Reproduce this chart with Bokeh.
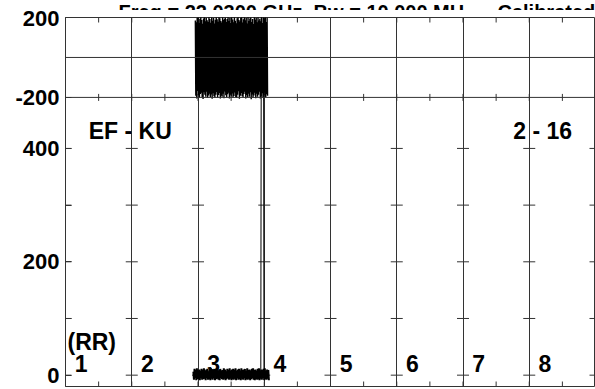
import numpy as np
from bokeh.plotting import figure
from bokeh.layouts import column
from bokeh.models import Range1d, LinearAxis, FixedTicker, Span, Grid
from bokeh.core.properties import value
from bokeh.embed import file_html
from bokeh.resources import INLINE

# ---------------- data ----------------
TITLE_TEXT = "Freq = 22.0300 GHz, Bw = 10.000 MH"
TITLE_TAIL = "Calibrated"
CELL_LABELS = ["1", "2", "3", "4", "5", "6", "7", "8"]
CORNER_LEFT = "EF - KU"
CORNER_RIGHT = "2 - 16"
UNIT_LABEL = "(RR)"

GRID_X = [0, 1, 2, 3, 4, 5, 6, 7, 8]
HALF_X = [0, 0.5, 1, 1.5, 2, 2.5, 3, 3.5, 4, 4.5, 5, 5.5, 6, 6.5, 7, 7.5, 8]
AMP_MAJOR = [0, 200, 400]
AMP_MINOR = [100, 300]
PHASE_TICKS = [-200, 200]
PHASE_TICK_LABELS = ["-200", "200"]

# phase trace (top panel), noisy between x = 1.96 and 3.05
PHASE_X0, PHASE_X1 = 1.96, 3.05
PHASE_NOISE = [
    185, -192, 176, -205, 198, -168, 207, -189, 172, -201, 194, -183, 203, -176, 188, -199,
    169, -208, 195, -174, 204, -187, 181, -196, 199, -171, 186, -203, 177, -190, 206, -182,
    193, -198, 174, -185, 201, -207, 184, -179, 197, -194, 170, -202, 189, -186, 205, -173,
    191, -200, 179, -188, 202, -178, 196, -205, 183, -192, 175, -197, 208, -181, 187, -204,
    194, -170, 200, -189, 178, -199, 192, -184, 205, -176, 182, -206, 198, -187, 173, -195,
    203, -180, 190, -201, 176, -193, 209, -175, 184, -198, 171, -203, 196, -186, 202, -169,
    188, -207, 180, -191, 199, -178, 206, -194, 175, -200, 191, -183, 204, -172, 186, -205,
    197, -188, 170, -199, 207, -181, 183, -196, 195, -174, 201, -209, 178, -185, 193, -202,
    168, -190, 205, -177, 189, -204, 199, -182, 176, -197, 208, -186, 185, -171, 194, -206,
    181, -195, 203, -179, 172, -201, 198, -189, 190, -175, 206, -199, 177, -184, 200, -192]

# amplitude trace (bottom panel): low band from x = 1.93 to 3.07 plus a spike
AMP_X0, AMP_X1 = 1.93, 3.07
AMP_NOISE = [
    6, -8, 11, -5, 9, -9, 12, -7, 8, -6, 10, -9, 7, -4, 11, -8, 9, -7, 12, -6,
    8, -9, 10, -5, 11, -8, 7, -7, 9, -9, 12, -6, 10, -8, 8, -5, 11, -9, 9, -7,
    12, -6, 7, -8, 10, -9, 11, -5, 8, -7, 9, -8, 12, -6, 10, -9, 7, -7, 11, -5,
    9, -8, 12, -6, 8, -9, 10, -7, 11, -8, 9, -6, 12, -9, 7, -5, 10, -8, 11, -7,
    8, -9, 12, -6, 9, -8, 10, -5, 11, -9, 7, -7, 12, -8, 9, -6, 10, -9, 8, -7,
    11, -5, 12, -8, 9, -9, 10, -6, 7, -8, 11, -7, 12, -9, 8, -6, 10, -8, 9, -5,
    11, -9, 12, -7, 8, -8, 10, -6, 9, -9]
SPIKE_X = [2.948, 2.956, 2.989, 2.996]
SPIKE_Y = [5, 700, 700, 8]

# ---------------- layout constants ----------------
W = 595
TITLE_H = 10                   # strip above the plot, title is cut by the page top
H = 379
LEFT, TOP, BOTTOM = 65, 7, 3
Y_LO, Y_BOUND, Y_TOP = -20, 490, 631      # bottom-panel units over the whole frame
PH_LO, PH_HI = -200, 200
ph_frame_lo = PH_LO - (PH_HI - PH_LO) * (Y_BOUND - Y_LO) / (Y_TOP - Y_BOUND)

FONT = "Liberation Sans"
INK = "#000000"
GRID = "#333333"

x_range = Range1d(0, 8)

# ---- title strip ----
t = figure(width=W, height=TITLE_H, output_backend="svg", toolbar_location=None,
           x_range=x_range, y_range=Range1d(0, TITLE_H),
           x_axis_location=None, y_axis_location=None,
           min_border_left=LEFT, min_border_right=0, min_border_top=0,
           min_border_bottom=0)
t.grid.visible = False
t.outline_line_color = None
t.text(x=[0.8, 6.52], y=[0.5, 0.5], text=[TITLE_TEXT, TITLE_TAIL], text_font=value(FONT),
       text_font_style="bold", text_font_size="20px", text_color=INK,
       text_baseline="alphabetic", text_align="left")

# ---- main plot ----
p = figure(width=W, height=H, output_backend="svg", toolbar_location=None,
           x_range=x_range, y_range=Range1d(Y_LO, Y_TOP),
           x_axis_location=None, y_axis_location=None,
           min_border_left=LEFT, min_border_right=0, min_border_top=TOP,
           min_border_bottom=BOTTOM)
p.grid.visible = False
p.extra_y_ranges = {"phase": Range1d(ph_frame_lo, PH_HI)}
p.outline_line_color = GRID
p.outline_line_width = 1
p.background_fill_color = "white"
p.border_fill_color = "white"

# vertical grid lines through both panels
p.add_layout(Grid(dimension=0, ticker=FixedTicker(ticks=GRID_X),
                  grid_line_color=GRID, grid_line_width=1))

# panel boundary and phase zero line
p.add_layout(Span(location=Y_BOUND, dimension="width", line_color=GRID, line_width=1))
p.add_layout(Span(location=0, dimension="width", line_color=GRID, line_width=1,
                  y_range_name="phase"))

# left axis: amplitude ticks plus the phase panel's limits
def phase_to_amp(v):
    return Y_BOUND + (v - PH_LO) / (PH_HI - PH_LO) * (Y_TOP - Y_BOUND)

ph_pos = [round(phase_to_amp(v), 3) for v in PHASE_TICKS]
overrides = {pos: lab for pos, lab in zip(ph_pos, PHASE_TICK_LABELS)}
yaxis = LinearAxis(ticker=FixedTicker(ticks=AMP_MAJOR + ph_pos, minor_ticks=AMP_MINOR),
                   major_label_overrides=overrides,
                   axis_line_color=GRID, major_tick_in=6, major_tick_out=0,
                   minor_tick_in=6, minor_tick_out=0,
                   major_tick_line_color=GRID, minor_tick_line_color=GRID,
                   major_label_standoff=6,
                   major_label_text_font=FONT, major_label_text_font_style="bold",
                   major_label_text_font_size="22px", major_label_text_color=INK)
p.add_layout(yaxis, "left")

# tick crosses on the vertical grid lines (bottom panel)
cx = [x for x in GRID_X for _ in AMP_MAJOR + AMP_MINOR]
cy = [y for _ in GRID_X for y in AMP_MAJOR + AMP_MINOR]
p.scatter(cx, cy, marker="dash", size=12, line_color=GRID, line_width=1)

# x ticks along frame top, panel boundary and frame bottom
vt = np.pi / 2
p.scatter(HALF_X, [Y_LO] * len(HALF_X), marker="dash", angle=vt, size=10,
          line_color=GRID, line_width=1)
p.scatter(HALF_X, [Y_BOUND] * len(HALF_X), marker="dash", angle=vt, size=7,
          line_color=GRID, line_width=1)
p.scatter(HALF_X, [Y_TOP] * len(HALF_X), marker="dash", angle=vt, size=10,
          line_color=GRID, line_width=1)

# traces
px = np.linspace(PHASE_X0, PHASE_X1, len(PHASE_NOISE))
p.line(px, PHASE_NOISE, line_color=INK, line_width=1.4, y_range_name="phase")
ax = np.linspace(AMP_X0, AMP_X1, len(AMP_NOISE))
p.line(ax, AMP_NOISE, line_color=INK, line_width=2)
p.line(SPIKE_X, SPIKE_Y, line_color=INK, line_width=1)

# cell labels
p.text(x=[i + 0.14 for i in range(len(CELL_LABELS))], y=[21] * len(CELL_LABELS),
       text=CELL_LABELS, text_font=value(FONT), text_font_style="bold",
       text_font_size="23px", text_color=INK, text_baseline="alphabetic",
       text_align="left")
p.text(x=[0.03], y=[59], text=[UNIT_LABEL], text_font=value(FONT),
       text_font_style="bold", text_font_size="23px", text_color=INK,
       text_baseline="alphabetic", text_align="left")
p.text(x=[0.35, 6.76], y=[430, 430], text=[CORNER_LEFT, CORNER_RIGHT],
       text_font=value(FONT), text_font_style="bold", text_font_size="23px",
       text_color=INK, text_baseline="alphabetic", text_align="left")

layout = column(t, p, spacing=0)
open("out.html", "w").write(file_html(layout, INLINE))
